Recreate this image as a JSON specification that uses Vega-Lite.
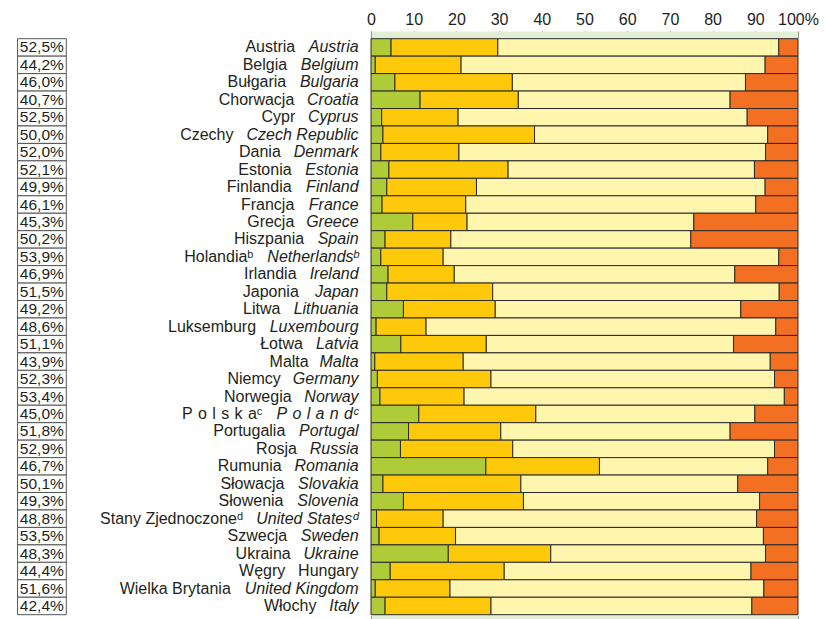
{
  "$schema": "https://vega.github.io/schema/vega-lite/v6.json",
  "width": 427,
  "height": 576,
  "autosize": {"type": "none"},
  "padding": {"left": 371, "top": 38.7, "right": 30, "bottom": 4.3},
  "background": "white",
  "config": {"view": {"stroke": null}, "font": "Liberation Sans"},
  "data": {"values": [
    {"pl": "Austria", "en": "Austria", "pct": "52,5%", "s1": 4.7, "s2": 25.0, "s3": 65.8, "s4": 4.5},
    {"pl": "Belgia", "en": "Belgium", "pct": "44,2%", "s1": 1.0, "s2": 20.1, "s3": 71.2, "s4": 7.7},
    {"pl": "Bułgaria", "en": "Bulgaria", "pct": "46,0%", "s1": 5.6, "s2": 27.5, "s3": 54.6, "s4": 12.3},
    {"pl": "Chorwacja", "en": "Croatia", "pct": "40,7%", "s1": 11.5, "s2": 23.0, "s3": 49.6, "s4": 15.9},
    {"pl": "Cypr", "en": "Cyprus", "pct": "52,5%", "s1": 2.5, "s2": 17.9, "s3": 67.7, "s4": 11.9},
    {"pl": "Czechy", "en": "Czech Republic", "pct": "50,0%", "s1": 2.8, "s2": 35.5, "s3": 54.6, "s4": 7.1},
    {"pl": "Dania", "en": "Denmark", "pct": "52,0%", "s1": 2.3, "s2": 18.3, "s3": 71.8, "s4": 7.6},
    {"pl": "Estonia", "en": "Estonia", "pct": "52,1%", "s1": 4.2, "s2": 27.9, "s3": 57.7, "s4": 10.2},
    {"pl": "Finlandia", "en": "Finland", "pct": "49,9%", "s1": 3.7, "s2": 21.0, "s3": 67.6, "s4": 7.7},
    {"pl": "Francja", "en": "France", "pct": "46,1%", "s1": 2.6, "s2": 19.6, "s3": 67.9, "s4": 9.9},
    {"pl": "Grecja", "en": "Greece", "pct": "45,3%", "s1": 9.8, "s2": 12.7, "s3": 53.1, "s4": 24.4},
    {"pl": "Hiszpania", "en": "Spain", "pct": "50,2%", "s1": 3.3, "s2": 15.4, "s3": 56.2, "s4": 25.1},
    {"pl": "Holandia\u1d47", "en": "Netherlands\u1d47", "pct": "53,9%", "s1": 2.3, "s2": 14.6, "s3": 78.6, "s4": 4.5},
    {"pl": "Irlandia", "en": "Ireland", "pct": "46,9%", "s1": 4.0, "s2": 15.5, "s3": 65.7, "s4": 14.8},
    {"pl": "Japonia", "en": "Japan", "pct": "51,5%", "s1": 3.7, "s2": 24.8, "s3": 67.1, "s4": 4.4},
    {"pl": "Litwa", "en": "Lithuania", "pct": "49,2%", "s1": 7.6, "s2": 21.5, "s3": 57.5, "s4": 13.4},
    {"pl": "Luksemburg", "en": "Luxembourg", "pct": "48,6%", "s1": 1.2, "s2": 11.7, "s3": 81.9, "s4": 5.2},
    {"pl": "Łotwa", "en": "Latvia", "pct": "51,1%", "s1": 7.0, "s2": 20.0, "s3": 57.9, "s4": 15.1},
    {"pl": "Malta", "en": "Malta", "pct": "43,9%", "s1": 0.9, "s2": 20.7, "s3": 71.9, "s4": 6.5},
    {"pl": "Niemcy", "en": "Germany", "pct": "52,3%", "s1": 1.5, "s2": 26.6, "s3": 66.4, "s4": 5.5},
    {"pl": "Norwegia", "en": "Norway", "pct": "53,4%", "s1": 2.1, "s2": 19.7, "s3": 75.0, "s4": 3.2},
    {"pl": "P\u2004o\u2004l\u2004s\u2004k\u2004a\u1d9c", "en": "P\u2004o\u2004l\u2004a\u2004n\u2004d\u1d9c", "pct": "45,0%", "s1": 11.2, "s2": 27.4, "s3": 51.3, "s4": 10.1},
    {"pl": "Portugalia", "en": "Portugal", "pct": "51,8%", "s1": 8.8, "s2": 21.6, "s3": 53.7, "s4": 15.9},
    {"pl": "Rosja", "en": "Russia", "pct": "52,9%", "s1": 6.9, "s2": 26.3, "s3": 61.3, "s4": 5.5},
    {"pl": "Rumunia", "en": "Romania", "pct": "46,7%", "s1": 26.9, "s2": 26.6, "s3": 39.4, "s4": 7.1},
    {"pl": "Słowacja", "en": "Slovakia", "pct": "50,1%", "s1": 2.8, "s2": 32.3, "s3": 50.8, "s4": 14.1},
    {"pl": "Słowenia", "en": "Slovenia", "pct": "49,3%", "s1": 7.6, "s2": 28.1, "s3": 55.3, "s4": 9.0},
    {"pl": "Stany Zjednoczone\u1d48", "en": "United States\u1d48", "pct": "48,8%", "s1": 1.3, "s2": 15.6, "s3": 73.4, "s4": 9.7},
    {"pl": "Szwecja", "en": "Sweden", "pct": "53,5%", "s1": 1.9, "s2": 17.9, "s3": 72.1, "s4": 8.1},
    {"pl": "Ukraina", "en": "Ukraine", "pct": "48,3%", "s1": 18.1, "s2": 24.0, "s3": 50.3, "s4": 7.6},
    {"pl": "Węgry", "en": "Hungary", "pct": "44,4%", "s1": 4.5, "s2": 26.7, "s3": 57.8, "s4": 11.0},
    {"pl": "Wielka Brytania", "en": "United Kingdom", "pct": "51,6%", "s1": 1.0, "s2": 17.5, "s3": 73.5, "s4": 8.0},
    {"pl": "Włochy", "en": "Italy", "pct": "42,4%", "s1": 3.3, "s2": 24.8, "s3": 61.1, "s4": 10.8}
  ]},
  "resolve": {"axis": {"x": "independent"}},
  "encoding": {
    "y": {"field": "en", "type": "nominal", "sort": null, "axis": null, "scale": {"paddingInner": 0, "paddingOuter": 0}}
  },
  "layer": [
    {
      "transform": [{"fold": ["s1", "s2", "s3", "s4"], "as": ["seg", "share"]}],
      "mark": {"type": "bar", "stroke": "#2b2b2b", "strokeWidth": 1},
      "encoding": {
        "x": {
          "field": "share", "type": "quantitative", "stack": "zero",
          "scale": {"domain": [0, 100], "nice": false},
          "axis": {
            "orient": "top", "offset": 0.7, "title": null, "grid": false,
            "values": [0, 10, 20, 30, 40, 50, 60, 70, 80, 90, 100],
            "domainColor": "#E3EFD5", "domainWidth": 14, "domainCap": "butt",
            "tickColor": "#3a3a3a", "tickSize": 7, "tickWidth": 1,
            "labelFontSize": 16, "labelFont": "Liberation Sans", "labelColor": "#231F20",
            "labelPadding": 4, "labelFlush": false, "labelOverlap": false,
            "labelExpr": "datum.value == 100 ? '100%' : datum.label",
            "encode": {"labels": {"update": {"dx": {"signal": "datum.value == 0 ? 2.5 : (datum.value == 100 ? 7 : 4.5)"}}}}
          }
        },
        "color": {
          "field": "seg", "type": "nominal", "legend": null,
          "scale": {"domain": ["s1", "s2", "s3", "s4"], "range": ["#AFCB37", "#FFC90B", "#FFF6AE", "#F37022"]}
        },
        "order": {"field": "seg", "sort": "ascending"}
      }
    },
    {
      "mark": {"type": "rect", "fill": "white", "stroke": "#555555", "strokeWidth": 1},
      "encoding": {
        "x": {
          "datum": -82.77, "type": "quantitative", "scale": {"domain": [0, 100], "nice": false},
          "axis": {
            "orient": "bottom", "offset": 1, "title": null, "grid": false, "labels": false,
            "values": [0, 10, 20, 30, 40, 50, 60, 70, 80, 90, 100],
            "domainColor": "#E3EFD5", "domainWidth": 14, "domainCap": "butt",
            "tickColor": "#3a3a3a", "tickSize": 7, "tickWidth": 1
          }
        },
        "x2": {"datum": -71.36}
      }
    },
    {
      "mark": {"type": "text", "align": "left", "baseline": "middle", "dx": 2.3, "fontSize": 15.5, "font": "Liberation Sans", "color": "#231F20"},
      "encoding": {
        "x": {"datum": -82.77, "type": "quantitative", "scale": {"domain": [0, 100], "nice": false}, "axis": null},
        "text": {"field": "pct"}
      }
    },
    {
      "mark": {
        "type": "text", "align": "right", "baseline": "middle", "dx": -12.4, "fontSize": 16, "font": "Liberation Sans", "color": "#231F20",
        "fontStyle": {"expr": "datum.en === 'Hungary' ? 'normal' : 'italic'"}
      },
      "encoding": {
        "x": {"datum": 0, "type": "quantitative", "scale": {"domain": [0, 100], "nice": false}, "axis": null},
        "text": {"field": "en"}
      }
    },
    {
      "mark": {
        "type": "text", "align": "right", "baseline": "middle", "fontSize": 16, "font": "Liberation Sans", "color": "#231F20",
        "dx": {"expr": "-24.9 - 0.0162*(556*length(datum.en) - 334*length(replace(datum.en, regexp('[^ijl]','g'), '')) - 278*length(replace(datum.en, regexp('[^ft ]','g'), '')) - 223*length(replace(datum.en, regexp('[^r\u2004]','g'), '')) - 56*length(replace(datum.en, regexp('[^cksvxyz]','g'), '')) + 277*length(replace(datum.en, regexp('[^m]','g'), '')) + 166*length(replace(datum.en, regexp('[^w]','g'), '')) + 140*length(replace(datum.en, regexp('[^A-Z]','g'), '')) - 418*length(replace(datum.en, regexp('[^I]','g'), '')) - 140*length(replace(datum.en, regexp('[^L]','g'), '')) - 200*length(replace(datum.en, regexp('[^\u1d47\u1d9c\u1d48]','g'), '')))"}
      },
      "encoding": {
        "x": {"datum": 0, "type": "quantitative", "scale": {"domain": [0, 100], "nice": false}, "axis": null},
        "text": {"field": "pl"}
      }
    }
  ]
}
